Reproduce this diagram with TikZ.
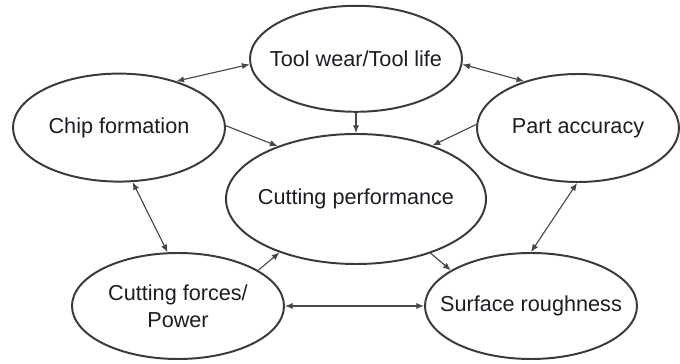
\documentclass[tikz,border=0pt]{standalone}
\usepackage{fontspec}
\setmainfont{Liberation Sans}
\usetikzlibrary{shapes.geometric,arrows.meta}
\definecolor{ringgray}{HTML}{3A3A3A}
\definecolor{linkgray}{HTML}{474747}
\definecolor{textdark}{HTML}{1C1C24}
\tikzset{
  factor/.style={ellipse, draw=ringgray, line width=1.4pt, inner xsep=-3cm, inner ysep=0pt,
    minimum width=5.3cm, minimum height=2.65cm, align=center,
    font=\fontsize{15.4}{19}\selectfont, text=textdark},
  link/.style={draw=linkgray, line width=0.8pt, -{Latex[length=5.5pt,width=4.5pt]}},
  twoway/.style={link, {Latex[length=5.5pt,width=4.5pt]}-{Latex[length=5.5pt,width=4.5pt]}},
}
\begin{document}
\begin{tikzpicture}
    \useasboundingbox (0,0) rectangle (17,9.1);

    % Factors
    \node[factor] (tool) at (8.9,7.63) {Tool wear/Tool life};
    \node[factor, minimum height=2.7cm] (chip) at (2.975,5.91) {Chip formation};
    \node[factor, minimum width=5.05cm, minimum height=2.7cm] (part) at (14.45,5.9) {Part accuracy};
    \node[factor, minimum width=6.5cm, minimum height=3.25cm] (perf) at (8.9,4.125) {Cutting performance};
    \node[factor] (forces) at (4.45,1.45) {Cutting forces/\\Power};
    \node[factor] (surface) at (13.275,1.45) {Surface roughness};

    % Mutual influences
    \draw[twoway] (chip.39) -- (tool.183);
    \draw[twoway] (tool.-3) -- (part.139);
    \draw[twoway] (chip.-76) -- (forces.101);
    \draw[twoway] (part.-91) -- (surface.90);
    \draw[twoway] (forces) -- (surface);

    % Influences on cutting performance
    \draw[link] (chip.1) -- (perf.146);
    \draw[link] (tool.south) -- (perf.north);
    \draw[link] (part.178) -- (perf.35);
    \draw[link] (forces.24) -- (perf.215);
    \draw[link] (perf.-36) -- (surface.156);
\end{tikzpicture}
\end{document}
